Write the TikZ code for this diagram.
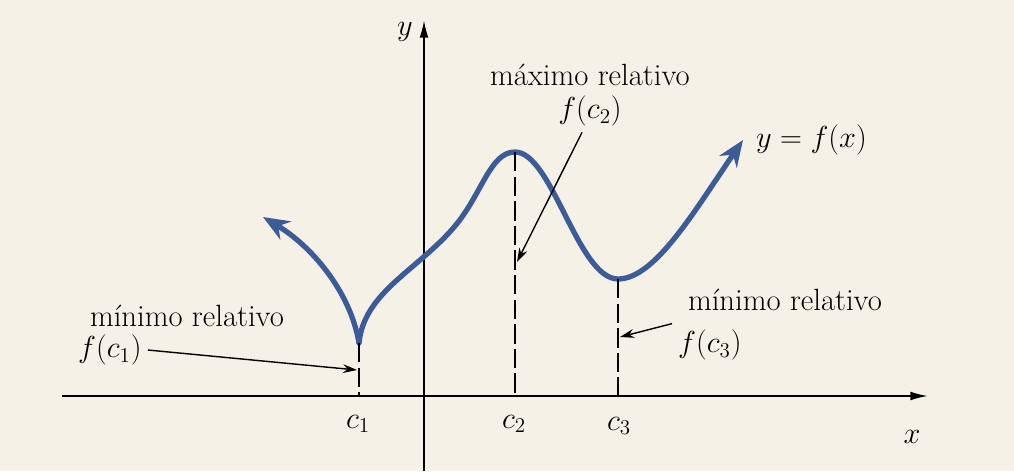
\documentclass[tikz,border=0pt]{standalone}
\usepackage{tikz}
\usetikzlibrary{arrows.meta,positioning}
\definecolor{paper}{RGB}{246,241,231}
\definecolor{curveblue}{RGB}{60,92,152}

\begin{document}
\begin{tikzpicture}[x=0.02cm, y=-0.02cm,
      font=\fontsize{17.5}{21}\selectfont,
      axis/.style={line width=1.1pt, -{Latex[length=10pt,width=5pt]}},
      graph/.style={curveblue, line width=3pt, line cap=round, -{Stealth[length=15pt,width=12pt]}},
      guide/.style={line width=0.9pt, dash pattern=on 11pt off 3pt},
      pointer/.style={line width=0.8pt, -{Stealth[length=8pt,width=5pt]}},
      ]
      \fill[paper] (0,0) rectangle (1014,471);
      \useasboundingbox (0,0) rectangle (1014,471);

      % axes
      \coordinate (xs) at (62,396);
      \coordinate (xe) at (928,396);
      \coordinate (ys) at (424,471);
      \coordinate (ye) at (424,20);
      \draw[axis] (xs) -- (xe);
      \draw[axis] (ys) -- (ye);
      \node (xlab) at (912,437) {$x$};
      \node (ylab) at (405,32) {$y$};

      % points on the curve and on the x axis
      \coordinate (p1) at (359,343);
      \coordinate (p2) at (515,152);
      \coordinate (p3) at (618,279);
      \coordinate (tipL) at (263,217);
      \coordinate (tipR) at (743,140);
      \coordinate (c1) at (359,396);
      \coordinate (c2) at (515,396);
      \coordinate (c3) at (618,396);
      \node (lc1) at (358,424) {$c_1$};
      \node (lc2) at (514,424) {$c_2$};
      \node (lc3) at (619,426) {$c_3$};

      % the graph
      \draw[graph] (p1) .. controls (350,290) and (310,245) .. (tipL);
      \draw[graph] (p1) .. controls (364,292) and (418,270) .. (455,226)
        .. controls (482,194) and (490,152) .. (p2)
        .. controls (552,152) and (578,279) .. (p3)
        .. controls (655,279) and (695,210) .. (tipR);
      \node[anchor=west] (eq) at (750,140) {$y = f(x)$};

      \draw[guide] (p1) -- (c1);
      \draw[guide] (p2) -- (c2);
      \draw[guide] (p3) -- (c3);

      % labels and pointers
      \node (minL) at (187,316) {mínimo relativo};
      \node[anchor=west] (fc1) at (72,350) {$f(c_1)$};
      \coordinate (m1) at (357,370);
      \draw[pointer] (fc1.east) -- (m1);

      \node (maxT) at (590,75) {máximo relativo};
      \node (fc2) at (590,111) {$f(c_2)$};
      \coordinate (m2) at (517,262);
      \draw[pointer] ([xshift=-0.16cm]fc2.south) -- (m2);

      \node (minR) at (785,300) {mínimo relativo};
      \node[anchor=west] (fc3) at (672,345) {$f(c_3)$};
      \coordinate (m3) at (620,337);
      \draw[pointer] (fc3.north west) -- (m3);
    \end{tikzpicture}
\end{document}
